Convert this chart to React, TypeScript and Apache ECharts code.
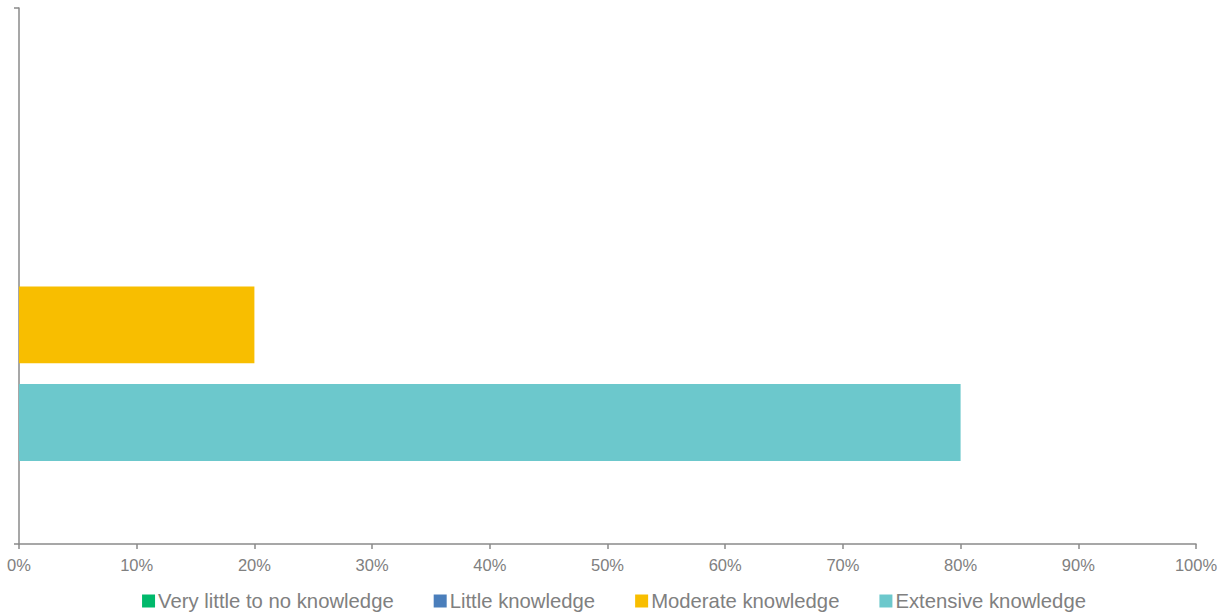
import React, { useEffect, useRef } from "react";
import * as echarts from "echarts";

const categories = ["Knowledge"];
const seriesNames = [
  "Very little to no knowledge",
  "Little knowledge",
  "Moderate knowledge",
  "Extensive knowledge",
];
const veryLittle = [0];
const little = [0];
const moderate = [20];
const extensive = [80];
const colors = ["#00B96B", "#4A7EBB", "#F8BE00", "#6CC8CC"];

export default function App() {
  const ref = useRef<HTMLDivElement>(null);
  useEffect(() => {
    if (!ref.current) return;
    const chart = echarts.init(ref.current, undefined, { renderer: "svg" });
    const values = [veryLittle, little, moderate, extensive];
    chart.setOption({
      animation: false,
      backgroundColor: "#ffffff",
      textStyle: { fontFamily: "Liberation Sans, Arial, sans-serif" },
      grid: { left: 19, right: 32, top: 8, bottom: 69, containLabel: false },
      legend: {
        data: seriesNames,
        top: 586,
        left: "center",
        itemWidth: 13,
        itemHeight: 13,
        itemGap: 40,
        icon: "rect",
        textStyle: { fontSize: 20.3, color: "#808080", padding: [0, 0, 0, -2] },
      },
      xAxis: {
        type: "value",
        min: 0,
        max: 100,
        interval: 10,
        splitLine: { show: false },
        axisLine: { show: true, lineStyle: { color: "#8a8a8a", width: 1.5 } },
        axisTick: { show: true, length: 5, lineStyle: { color: "#8a8a8a", width: 1.5 } },
        axisLabel: {
          formatter: (v: number) => v + "%",
          fontSize: 16.5,
          color: "#808080",
          margin: 12,
        },
      },
      yAxis: {
        type: "category",
        data: categories,
        inverse: true,
        axisLine: { show: true, lineStyle: { color: "#8a8a8a", width: 1.5 } },
        axisTick: { show: true, length: 5, alignWithLabel: false, lineStyle: { color: "#8a8a8a", width: 1.5 } },
        axisLabel: { show: false },
      },
      series: seriesNames.map((name, i) => ({
        name,
        type: "bar",
        data: values[i],
        barGap: "27%",
        barCategoryGap: "31%",
        itemStyle: { color: colors[i] },
      })),
    });
    return () => chart.dispose();
  }, []);
  return (
    <div
      ref={ref}
      style={{ position: "fixed", left: 0, top: 0, width: 1228, height: 613 }}
    />
  );
}
